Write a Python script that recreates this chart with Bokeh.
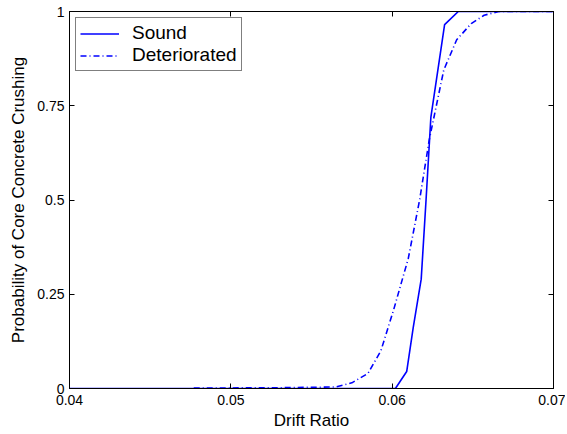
from bokeh.plotting import figure
from bokeh.models import LinearAxis, FixedTicker, Legend, LegendItem
from bokeh.embed import file_html
from bokeh.resources import INLINE

# Data
sound_x = [0.04, 0.0602, 0.0609, 0.0613, 0.0618, 0.0621, 0.0624, 0.06325, 0.0641, 0.07]
sound_y = [0.0, 0.0, 0.045, 0.16, 0.29, 0.50, 0.72, 0.965, 1.0, 1.0]

det_x = [0.0477, 0.0530, 0.0565, 0.0575, 0.0585, 0.0593, 0.0601, 0.0610, 0.0617,
         0.0623, 0.0632, 0.0640, 0.0649, 0.0657, 0.0666, 0.07]
det_y = [0.001, 0.002, 0.004, 0.015, 0.04, 0.10, 0.21, 0.345, 0.50,
         0.66, 0.845, 0.925, 0.968, 0.99, 1.0, 1.0]

x_ticks = [0.04, 0.05, 0.06, 0.07]
x_tick_labels = ["0.04", "0.05", "0.06", "0.07"]
y_ticks = [0, 0.25, 0.5, 0.75, 1]
y_tick_labels = ["0", "0.25", "0.5", "0.75", "1"]

FONT = "Liberation Sans"

p = figure(width=565, height=432, output_backend="svg", toolbar_location=None,
           x_range=(0.04, 0.07), y_range=(0, 1),
           min_border_left=69, min_border_right=12, min_border_top=11, min_border_bottom=41)
p.xgrid.visible = False
p.ygrid.visible = False
p.outline_line_color = "black"
p.outline_line_width = 1
p.background_fill_color = "white"

r1 = p.line(sound_x, sound_y, line_color="#0000ff", line_width=1.6)
r2 = p.line(det_x, det_y, line_color="#0000ff", line_width=1.6, line_dash="6 3 1 3")

def style(ax, ticks, labels, show_labels=True):
    ax.ticker = FixedTicker(ticks=ticks)
    if show_labels:
        ax.major_label_overrides = {t: l for t, l in zip(ticks, labels)}
    else:
        ax.major_label_overrides = {t: "" for t in ticks}
    ax.major_tick_in = 5
    ax.major_tick_out = 0
    ax.minor_tick_line_color = None
    ax.axis_line_color = "black"
    ax.major_tick_line_color = "black"
    ax.major_label_text_font = FONT
    ax.major_label_text_font_size = "14px"
    ax.major_label_text_color = "black"
    ax.axis_label_text_font = FONT
    ax.axis_label_text_font_size = "17px"
    ax.axis_label_text_font_style = "normal"
    ax.axis_label_text_color = "black"

style(p.xaxis[0], x_ticks, x_tick_labels)
style(p.yaxis[0], y_ticks, y_tick_labels)
p.xaxis[0].axis_label = "Drift Ratio"
p.yaxis[0].axis_label = "Probability of Core Concrete Crushing"
p.xaxis[0].major_label_standoff = 6
p.yaxis[0].major_label_standoff = 5
p.xaxis[0].axis_label_standoff = 3
p.yaxis[0].axis_label_standoff = 6

top = LinearAxis()
style(top, x_ticks, x_tick_labels, show_labels=False)
top.major_label_standoff = 0
p.add_layout(top, "above")
right = LinearAxis()
style(right, y_ticks, y_tick_labels, show_labels=False)
right.major_label_standoff = 0
p.add_layout(right, "right")

legend = Legend(items=[LegendItem(label="Sound", renderers=[r1]),
                       LegendItem(label="Deteriorated", renderers=[r2])],
                location="top_left")
legend.margin = 6
legend.padding = 4
legend.spacing = 0
legend.border_line_color = "black"
legend.border_line_width = 1
legend.label_text_font = FONT
legend.label_text_font_size = "19px"
legend.label_text_color = "black"
legend.glyph_width = 39
legend.label_standoff = 13
legend.label_height = 19
legend.glyph_height = 19
p.add_layout(legend)

open("out.html", "w").write(file_html(p, INLINE))
